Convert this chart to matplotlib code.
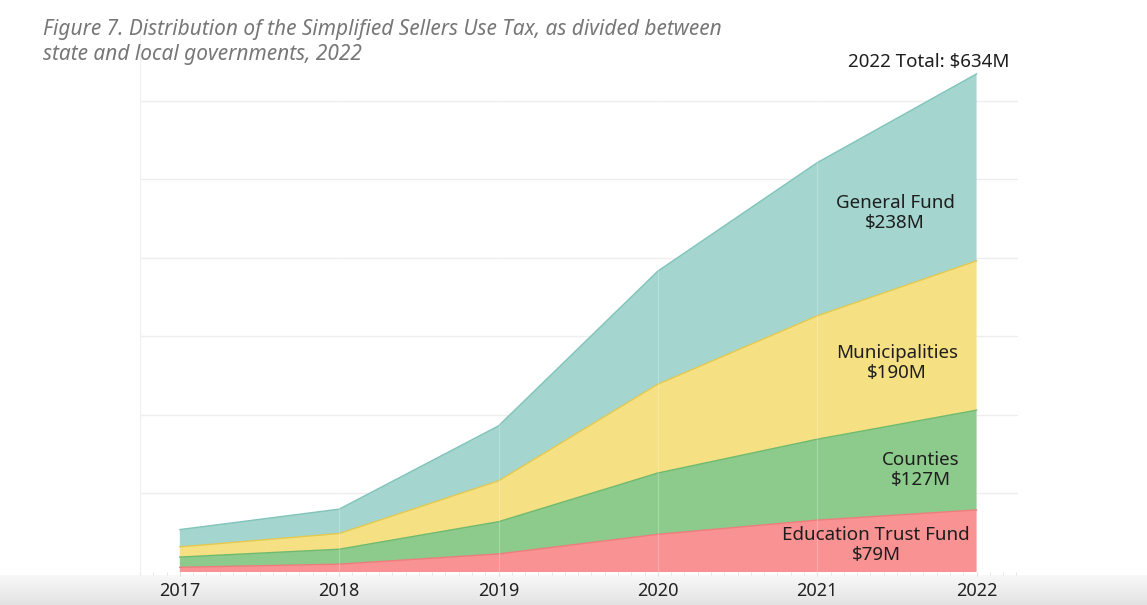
import numpy as np
import matplotlib
matplotlib.use("Agg")
import matplotlib.pyplot as plt
from matplotlib.colors import LinearSegmentedColormap

# Данные, $M (по годам)
years = [2017, 2018, 2019, 2020, 2021, 2022]
education = [6, 10, 23, 48, 66, 79]
counties = [13, 19, 41, 78, 103, 127]
municipalities = [13, 20, 52, 113, 157, 190]
general_fund = [22, 31, 70, 144, 195, 238]

series_names = ["Education Trust Fund", "Counties", "Municipalities", "General Fund"]
fill_colors = ["#f99292", "#8dcb8d", "#f5e084", "#a4d5cf"]
edge_colors = ["#ee7c7c", "#6fba6f", "#e3c94e", "#80c4bb"]

title = ("Figure 7. Distribution of the Simplified Sellers Use Tax, as divided between\n"
         "state and local governments, 2022")

plt.rcParams['font.family'] = ['Noto Sans', 'DejaVu Sans']

fig = plt.figure(figsize=(11.47, 6.05), dpi=100)

# серая полоса внизу
band = fig.add_axes([0, 0, 1, 30 / 605], zorder=0)
cmap = LinearSegmentedColormap.from_list("band", ["#e3e3e3", "#f8f8f8"])
band.imshow(np.linspace(0, 1, 50).reshape(-1, 1), aspect='auto', cmap=cmap,
            extent=[0, 1, 0, 1], origin='lower')
band.axis('off')

ax = fig.add_axes([140 / 1147, 33 / 605, 878 / 1147, 539 / 605], zorder=1)
ax.patch.set_alpha(0)

values = np.array([education, counties, municipalities, general_fund], dtype=float)
cum = np.cumsum(values, axis=0)
lower = np.zeros(len(years))
for i in range(len(series_names)):
    ax.fill_between(years, lower, cum[i], facecolor=fill_colors[i],
                    edgecolor='none', zorder=2)
    ax.plot(years, cum[i], color=edge_colors[i], lw=1.0, zorder=3)
    lower = cum[i]

# бледные вертикальные линии поверх заливки
for yr in years[1:-1]:
    ax.axvline(yr, color='white', lw=0.8, alpha=0.25, zorder=4)

ax.set_xlim(2016.75, 2022.26)
ax.set_ylim(0, 686)
ax.set_yticks([100, 200, 300, 400, 500, 600])
ax.set_yticklabels([])
ax.yaxis.grid(True, color='#eeeeee', lw=1.0, zorder=0)
ax.set_axisbelow(True)
ax.tick_params(axis='y', length=0)

ax.set_xticks(years)
ax.set_xticklabels([str(y) for y in years], fontsize=13, color='#222222')
ax.set_xticks(np.arange(2016.75, 2022.26, 1 / 12), minor=True)
ax.tick_params(axis='x', which='major', length=3, color='#dddddd', pad=4)
ax.tick_params(axis='x', which='minor', length=2, color='#e2e2e2')

for side in ['top', 'right', 'bottom']:
    ax.spines[side].set_visible(False)
ax.spines['left'].set_color('#f0f0f0')

# подписи серий
labels = [
    (2021.37, 34, "Education Trust Fund\n$79M"),
    (2021.65, 130, "Counties\n$127M"),
    (2021.50, 266, "Municipalities\n$190M"),
    (2021.49, 457, "General Fund\n$238M"),
]
for x, y, txt in labels:
    ax.text(x, y, txt, ha='center', va='center', fontsize=13.5,
            color='#1e1e1e', linespacing=1.12, zorder=5)

ax.text(2021.7, 638, "2022 Total: $%dM" % cum[-1][-1], ha='center', va='bottom',
        fontsize=13.5, color='#1e1e1e', zorder=5)

fig.text(43 / 1147, 1 - 19 / 605, title, ha='left', va='top', fontsize=15,
         style='italic', color='#777777', linespacing=1.25)

fig.savefig("out.png", dpi=100)
